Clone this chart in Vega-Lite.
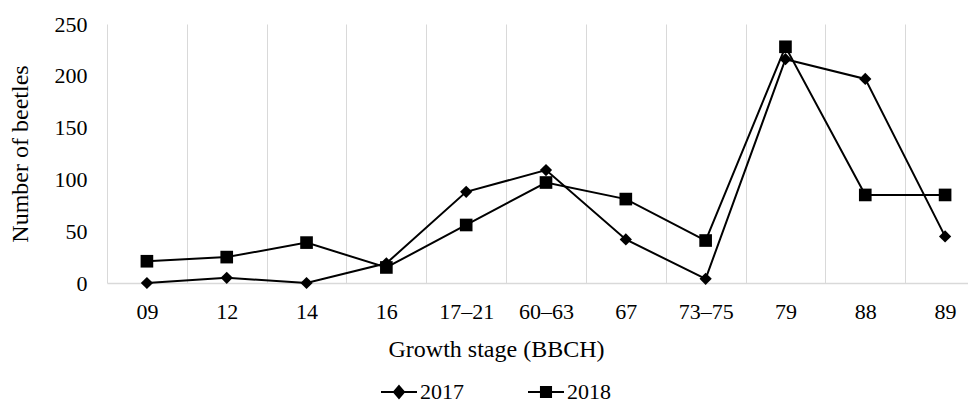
{
  "$schema": "https://vega.github.io/schema/vega-lite/v6.json",
  "width": 861,
  "height": 259,
  "autosize": {"type": "none"},
  "padding": {"left": 107, "top": 24, "right": 0, "bottom": 120},
  "background": "white",
  "config": {
    "view": {"stroke": null},
    "font": "Liberation Serif, Times New Roman, serif",
    "axis": {"labelFont": "Liberation Serif, Times New Roman, serif", "titleFont": "Liberation Serif, Times New Roman, serif", "labelColor": "#000", "titleColor": "#000", "titleFontWeight": "normal"},
    "legend": {"labelFont": "Liberation Serif, Times New Roman, serif"}
  },
  "data": {
    "values": [
      {"stage": "09", "year": "2017", "beetles": 0},
      {"stage": "12", "year": "2017", "beetles": 5},
      {"stage": "14", "year": "2017", "beetles": 0},
      {"stage": "16", "year": "2017", "beetles": 19},
      {"stage": "17–21", "year": "2017", "beetles": 88},
      {"stage": "60–63", "year": "2017", "beetles": 109},
      {"stage": "67", "year": "2017", "beetles": 42},
      {"stage": "73–75", "year": "2017", "beetles": 4},
      {"stage": "79", "year": "2017", "beetles": 216},
      {"stage": "88", "year": "2017", "beetles": 197},
      {"stage": "89", "year": "2017", "beetles": 45},
      {"stage": "09", "year": "2018", "beetles": 21},
      {"stage": "12", "year": "2018", "beetles": 25},
      {"stage": "14", "year": "2018", "beetles": 39},
      {"stage": "16", "year": "2018", "beetles": 15},
      {"stage": "17–21", "year": "2018", "beetles": 56},
      {"stage": "60–63", "year": "2018", "beetles": 97},
      {"stage": "67", "year": "2018", "beetles": 81},
      {"stage": "73–75", "year": "2018", "beetles": 41},
      {"stage": "79", "year": "2018", "beetles": 228},
      {"stage": "88", "year": "2018", "beetles": 85},
      {"stage": "89", "year": "2018", "beetles": 85}
    ]
  },
  "encoding": {
    "x": {
      "field": "stage", "type": "nominal", "sort": null,
      "scale": {"type": "band", "paddingInner": 0, "paddingOuter": 0, "range": [0, 878]},
      "axis": {
        "title": "Growth stage (BBCH)", "titleFont": "Liberation Serif, Times New Roman, serif", "titleFontSize": 24, "titleFontWeight": "normal", "titleColor": "#000",
        "titlePadding": 15, "titleX": 389, "titleAnchor": "middle",
        "labelFont": "Liberation Serif, Times New Roman, serif", "labelFontSize": 22, "labelColor": "#000", "labelAngle": 0, "labelPadding": 18, "ticks": false,
        "grid": true, "gridColor": "#d9d9d9", "gridWidth": 1, "tickBand": "extent",
        "domainColor": "#d9d9d9", "domainWidth": 1.5
      }
    },
    "y": {
      "field": "beetles", "type": "quantitative",
      "scale": {"domain": [0, 250]},
      "axis": {
        "title": "Number of beetles", "titleFont": "Liberation Serif, Times New Roman, serif", "titleFontSize": 24, "titleFontWeight": "normal", "titleColor": "#000", "titlePadding": 22,
        "values": [0, 50, 100, 150, 200, 250],
        "labelFont": "Liberation Serif, Times New Roman, serif", "labelFontSize": 22, "labelColor": "#000", "labelPadding": 20, "ticks": false, "domain": false, "grid": false
      }
    }
  },
  "layer": [
    {
      "mark": {"type": "line", "color": "black", "strokeWidth": 2},
      "encoding": {"detail": {"field": "year"}}
    },
    {
      "mark": {"type": "point", "filled": true, "color": "black", "opacity": 1},
      "encoding": {
        "shape": {"field": "year", "type": "nominal", "scale": {"domain": ["2017", "2018"], "range": ["diamond", "square"]}, "legend": null},
        "size": {"field": "year", "type": "nominal", "scale": {"domain": ["2017", "2018"], "range": [150, 160]}, "legend": null}
      }
    },
    {
      "mark": {"type": "point", "filled": false, "color": "black", "opacity": 0, "strokeWidth": 2},
      "encoding": {
        "shape": {
          "field": "year", "type": "nominal",
          "scale": {"domain": ["2017", "2018"], "range": [
            "M-1,0L1,0M0,-0.33L0.28,0L0,0.33L-0.28,0ZM0,-0.24L0.2,0L0,0.24L-0.2,0ZM0,-0.15L0.12,0L0,0.15L-0.12,0ZM0,-0.06L0.05,0L0,0.06L-0.05,0Z",
            "M-1,0L1,0M-0.28,-0.28L0.28,-0.28L0.28,0.28L-0.28,0.28ZM-0.2,-0.2L0.2,-0.2L0.2,0.2L-0.2,0.2ZM-0.12,-0.12L0.12,-0.12L0.12,0.12L-0.12,0.12ZM-0.04,-0.04L0.04,-0.04L0.04,0.04L-0.04,0.04Z"
          ]},
          "legend": {
            "orient": "none", "legendX": 273, "legendY": 349, "direction": "horizontal", "title": null,
            "symbolSize": 1296, "symbolOpacity": 1, "symbolStrokeColor": "black", "symbolStrokeWidth": 2,
            "labelFontSize": 22, "labelColor": "#000", "labelOffset": 2, "columnPadding": 60, "padding": 0
          }
        }
      }
    }
  ],
  "resolve": {"scale": {"shape": "independent"}}
}
